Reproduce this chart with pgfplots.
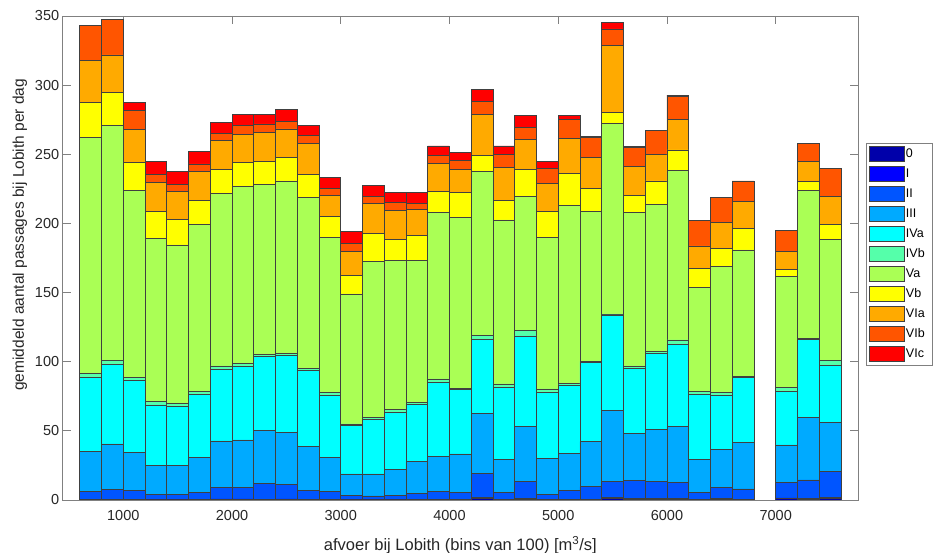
\documentclass[border=0pt]{standalone}
\usepackage{fontspec}
\setmainfont{Liberation Sans}
\usepackage{pgfplots}
\usepackage{pgfplotstable}
\pgfplotsset{compat=1.18}

% jet colour map, one colour per class
\definecolor{k0}{rgb}{0,0,0.6667}
\definecolor{kI}{rgb}{0,0,1}
\definecolor{kII}{rgb}{0,0.3333,1}
\definecolor{kIII}{rgb}{0,0.6667,1}
\definecolor{kIVa}{rgb}{0,1,1}
\definecolor{kIVb}{rgb}{0.3333,1,0.6667}
\definecolor{kVa}{rgb}{0.6667,1,0.3333}
\definecolor{kVb}{rgb}{1,1,0}
\definecolor{kVIa}{rgb}{1,0.6667,0}
\definecolor{kVIb}{rgb}{1,0.3333,0}
\definecolor{kVIc}{rgb}{1,0,0}

% mean number of passages per day at Lobith, per discharge bin and class
\pgfplotstableread{
x    c0  cI  cII  cIII cIVa cIVb cVa   cVb  cVIa cVIb cVIc
700  0.2 0.3 6.0  28.4 53.6 3.1  170.6 25.1 30.4 25.3 0
900  0.3 0.4 7.0  32.8 57.6 3.1  169.5 24.3 26.8 25.8 0
1100 0.2 0.3 6.7  27.0 52.1 2.2  135.6 19.8 24.1 14.0 5.3
1300 0.1 0.2 3.8  21.2 43.4 2.4  118.1 19.3 21.0 6.0  9.1
1500 0.1 0.2 3.8  21.2 42.2 2.4  114.5 18.5 20.0 5.6  8.9
1700 0.2 0.3 5.0  25.4 45.7 2.2  120.5 17.6 20.5 5.6  8.9
1900 0.3 0.5 8.1  33.8 52.0 2.2  124.8 17.6 21.0 4.8  8.0
2100 0.3 0.5 8.4  34.2 53.0 2.4  128.2 16.9 20.7 6.5  8.0
2300 0.3 0.4 11.4 38.0 53.5 1.7  123.2 16.1 21.0 6.3  7.2
2500 0.3 0.5 10.5 37.4 55.7 1.7  124.6 16.8 20.8 5.7  8.5
2700 0.2 0.3 6.7  31.8 55.0 1.2  123.4 16.9 22.4 5.5  7.7
2900 0.2 0.3 5.5  24.9 44.5 2.2  112.1 15.2 15.6 4.9  7.7
3100 0.1 0.2 2.8  15.7 35.4 0.8  94.0  13.7 16.9 6.0  8.4
3300 0.1 0.2 2.6  15.9 39.5 1.5  112.5 20.5 21.7 4.8  8.0
3500 0.1 0.3 3.2  18.6 40.9 2.5  107.9 15.0 20.7 5.8  7.5
3700 0.2 0.3 4.3  22.9 41.7 1.0  102.7 18.0 19.1 4.3  8.0
3900 0.3 0.3 5.4  25.3 53.8 2.4  120.5 15.4 20.0 5.6  7.0
4100 0.2 0.3 5.0  27.8 46.7 0.7  123.7 17.8 16.9 6.3  6.0
4300 1.0 0.9 17.4 43.4 53.7 2.4  119.1 11.1 29.9 9.1  8.9
4500 0.2 0.3 4.8  24.3 51.9 2.4  118.6 13.9 23.9 9.9  5.8
4700 0.5 0.5 12.3 40.2 65.1 4.3  96.9  19.5 21.5 8.4  8.7
4900 0.2 0.3 3.6  26.0 47.7 2.5  109.4 18.8 20.5 10.8 5.3
5100 0.3 0.4 6.5  26.5 49.5 1.2  128.9 22.9 25.3 14.0 2.9
5300 0.3 0.4 8.9  32.6 57.1 1.2  108.0 16.9 22.1 14.5 1.2
5500 1.0 0.7 12.0 50.9 69.2 0.4  138.2 7.7  48.9 11.6 4.5
5700 0.5 0.5 13.0 34.2 47.0 1.7  110.9 12.3 20.9 13.8 0.7
5900 0.5 0.5 12.7 37.4 55.0 1.2  106.7 16.7 19.5 16.8 0.5
6100 0.5 0.5 11.5 40.5 59.8 2.9  122.9 14.5 22.1 16.9 0.7
6300 0.2 0.3 5.0  24.1 47.0 2.2  75.2  13.3 16.4 18.5 0
6500 0.5 0.5 7.9  27.7 39.3 1.9  90.9  13.3 18.8 18.0 0
6700 0.3 0.3 7.4  33.5 47.0 0.7  91.6  15.6 19.3 15.0 0
7100 1.0 0.5 11.0 27.3 39.0 2.4  80.3  5.3  13.2 14.7 0
7300 0.5 0.5 13.5 45.3 56.6 0.5  106.8 6.5  14.4 13.3 0
7500 1.0 1.0 18.5 35.4 41.7 3.6  87.5  10.6 20.5 20.0 0
}\passages

% legend entries get a fixed width so the box keeps its size
\newcommand{\legentry}[1]{\makebox[22pt][l]{#1}}

\begin{document}
\begin{tikzpicture}
\useasboundingbox (-62.7pt,-53pt) rectangle (871.3pt,500pt);
\begin{axis}[
  scale only axis,
  width=795.3pt, height=484pt,
  xmin=443, xmax=7757, ymin=0, ymax=350,
  ybar stacked, bar width=200,
  xtick={1000,2000,...,7000},
  ytick={0,50,...,350},
  tick align=inside,
  major tick length=8pt,
  axis line style={black!50, line width=0.8pt},
  tick style={black!50, line width=0.8pt},
  ticklabel style={font=\fontsize{14.5}{16}\selectfont, text=black!85},
  /pgf/number format/assume math mode=true,
  /pgf/number format/set thousands separator={},
  scaled ticks=false,
  xticklabel style={yshift=-7pt},
  xlabel={afvoer bij Lobith (bins van 100) [m\textsuperscript{3}/s]},
  ylabel={gemiddeld aantal passages bij Lobith per dag},
  every axis x label/.style={at={(axis description cs:0.5,-0.093)}, anchor=center,
    font=\fontsize{16.5}{18}\selectfont, text=black!85},
  every axis y label/.style={at={(axis description cs:-0.054,0.548)}, rotate=90, anchor=center,
    font=\fontsize{15.5}{17}\selectfont, text=black!85},
  every axis plot/.append style={draw=black!75, line width=0.6pt},
  every axis plot post/.append style={
    legend image code/.code={\draw[##1] (0pt,-7.5pt) rectangle (35pt,7.5pt);}},
  legend style={at={(1.0101,0.7376)}, anchor=north west,
    draw=black!50, line width=0.6pt, fill=white,
    font=\fontsize{12.5}{14}\selectfont,
    row sep=4.4pt, inner xsep=3pt, inner ysep=3pt,
    nodes={inner sep=1pt}},
  legend cell align=left,
]
\addplot[fill=k0]   table[x=x, y=c0]   {\passages};
\addplot[fill=kI]   table[x=x, y=cI]   {\passages};
\addplot[fill=kII]  table[x=x, y=cII]  {\passages};
\addplot[fill=kIII] table[x=x, y=cIII] {\passages};
\addplot[fill=kIVa] table[x=x, y=cIVa] {\passages};
\addplot[fill=kIVb] table[x=x, y=cIVb] {\passages};
\addplot[fill=kVa]  table[x=x, y=cVa]  {\passages};
\addplot[fill=kVb]  table[x=x, y=cVb]  {\passages};
\addplot[fill=kVIa] table[x=x, y=cVIa] {\passages};
\addplot[fill=kVIb] table[x=x, y=cVIb] {\passages};
\addplot[fill=kVIc] table[x=x, y=cVIc] {\passages};
\legend{\legentry{0},\legentry{I},\legentry{II},\legentry{III},\legentry{IVa},\legentry{IVb},\legentry{Va},\legentry{Vb},\legentry{VIa},\legentry{VIb},\legentry{VIc}}
\end{axis}
\end{tikzpicture}
\end{document}
